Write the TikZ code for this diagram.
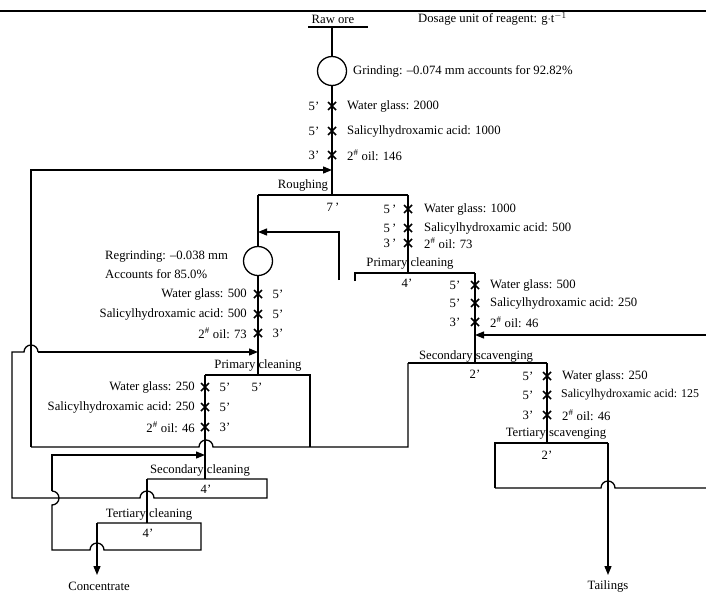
\documentclass[tikz,border=0pt]{standalone}
\usepackage{fontspec}
\setmainfont{Liberation Serif}
\usetikzlibrary{arrows.meta}
\begin{document}
\begin{tikzpicture}[x=1pt,y=-1pt,
  flow/.style={line width=1.3pt},
  arr/.style={flow,-{Triangle[length=9pt,width=7pt]}},
  txt/.style={inner sep=0pt,font=\fontsize{12.7}{14}\selectfont},
  mill/.style={draw,circle,line width=1.3pt,minimum size=29pt,inner sep=0pt},
  rule/.style={line width=2pt}]
\useasboundingbox (0,0) rectangle (706,592);
\newcommand{\xmark}[2]{\draw[line width=1.6pt] (#1-4,#2-4) -- (#1+4,#2+4) (#1-4,#2+4) -- (#1+4,#2-4);}
\newcommand{\oil}{2\textsuperscript{\#} oil}
% top rule
\coordinate (tl) at (0,11); \coordinate (tr) at (706,11);
\draw[rule] (tl) -- (tr);
% raw ore
\node[txt] (raw) at (333,19) {Raw ore};
\node[txt,anchor=west] (dose) at (418,19) {Dosage unit of reagent: g$\cdot$t$^{-1}$};
\coordinate (rawL) at (308,27); \coordinate (rawR) at (368,27); \coordinate (rawC) at (332,27);
\draw[flow] (rawL) -- (rawR);
\node[mill] (grind) at (332,71) {};
\node[txt,anchor=west] (grindt) at (353,71) {Grinding: --0.074 mm accounts for 92.82\%};
% roughing
\coordinate (rgh) at (332,195);
\coordinate (rghL) at (258,195); \coordinate (rghR) at (408,195);
\draw[flow] (rawC) -- (grind) -- (rgh);
\draw[flow] (rghL) -- (rghR);
\node[txt] (rought) at (303,185) {Roughing};
\node[txt] (r7) at (333,207) {7\,'};
\foreach \y/\a/\t in {106/5'/Water glass: 2000, 131/5'/Salicylhydroxamic acid: 1000, 155/3'/\oil: 146}{
  \xmark{332}{\y}
  \node[txt] at (314,\y) {\a};
  \node[txt,anchor=west] at (347,\y) {\t};
}
% feedback from secondary scavenging to roughing
\coordinate (fbA) at (31,447); \coordinate (fbB) at (31,170); \coordinate (fbC) at (332,170);
\coordinate (ss1) at (408,363); \coordinate (ss2) at (408,447);
\draw[flow] (ss1) -- (ss2) -- (213,447) arc[start angle=0,end angle=180,radius=7pt] -- (fbA);
\draw[arr] (fbA) -- (fbB) -- (fbC);
% regrinding branch
\node[mill] (regr) at (258,261) {};
\node[txt,anchor=west] (regt1) at (105,256) {Regrinding: --0.038 mm};
\node[txt,anchor=west] (regt2) at (105,274) {Accounts for 85.0\%};
\coordinate (pc2top) at (258,375);
\draw[flow] (rghL) -- (regr) -- (pc2top);
\foreach \y/\a/\t in {294/5'/Water glass: 500, 314/5'/Salicylhydroxamic acid: 500, 333/3'/\oil: 73}{
  \xmark{258}{\y}
  \node[txt] at (278,\y) {\a};
  \node[txt,anchor=east] at (247,\y) {\t};
}
% primary cleaning (right)
\coordinate (pc1top) at (408,273);
\coordinate (pc1L) at (355,273); \coordinate (pc1R) at (475,273); \coordinate (pc1Lb) at (355,281);
\draw[flow] (rghR) -- (pc1top);
\draw[flow] (pc1Lb) -- (pc1L) -- (pc1R);
\node[txt] (pc1t) at (410,263) {Primary cleaning};
\node[txt] (pc14) at (407,283) {4'};
\foreach \y/\a/\t in {209/5\,'/Water glass: 1000, 228/5\,'/Salicylhydroxamic acid: 500, 243/3\,'/\oil: 73}{
  \xmark{408}{\y}
  \node[txt] at (390,\y) {\a};
  \node[txt,anchor=west] at (424,\y) {\t};
}
% return to regrinding
\coordinate (rr1) at (339,280); \coordinate (rr2) at (339,232); \coordinate (rr3) at (258,232);
\draw[arr] (rr1) -- (rr2) -- (rr3);
% secondary scavenging
\coordinate (sstop) at (475,363);
\coordinate (ssR) at (547,363);
\draw[flow] (pc1R) -- (sstop);
\draw[flow] (ss1) -- (ssR);
\node[txt] (sst) at (476,356) {Secondary scavenging};
\node[txt] (ss2t) at (475,374) {2'};
\foreach \y/\a/\t in {285/5'/Water glass: 500, 303/5'/Salicylhydroxamic acid: 250, 322/3'/\oil: 46}{
  \xmark{475}{\y}
  \node[txt] at (455,\y) {\a};
  \node[txt,anchor=west] at (490,\y) {\t};
}
\coordinate (ret1) at (706,335); \coordinate (ret2) at (475,335);
\draw[arr] (ret1) -- (ret2);
% tertiary scavenging
\coordinate (tstop) at (547,443);
\coordinate (tsL) at (495,443); \coordinate (tsR) at (608,443);
\coordinate (tsLb) at (495,488); \coordinate (tsE) at (706,488);
\coordinate (tail) at (608,575);
\draw[flow] (ssR) -- (tstop);
\draw[flow] (tsLb) -- (tsL) -- (tsR);
\draw[arr] (tsR) -- (tail);
\draw[flow] (tsLb) -- (601,488) arc[start angle=180,end angle=0,radius=7pt] -- (tsE);
\node[txt] (tst) at (556,434) {Tertiary scavenging};
\node[txt] (ts2t) at (547,455) {2'};
\node[txt] (tailt) at (608,586) {Tailings};
\foreach \y/\a/\t in {376/5'/Water glass: 250, 415/3'/\oil: 46}{
  \xmark{547}{\y}
  \node[txt] at (528,\y) {\a};
  \node[txt,anchor=west] at (562,\y) {\t};
}
\xmark{547}{395}
\node[txt] (ts5b) at (528,395) {5'};
\node[txt,anchor=west,font=\fontsize{11.9}{14}\selectfont] (tssal) at (561,395) {Salicylhydroxamic acid: 125};
% primary cleaning (left)
\coordinate (pc2L) at (205,375); \coordinate (pc2R) at (310,375); \coordinate (pc2Rb) at (310,447);
\draw[flow] (pc2L) -- (pc2R) -- (pc2Rb);
\node[txt] (pc2t) at (258,365) {Primary cleaning};
\node[txt] (pc25) at (257,387) {5'};
\foreach \y/\a/\t in {387/5'/Water glass: 250, 407/5'/Salicylhydroxamic acid: 250, 427/3'/\oil: 46}{
  \xmark{205}{\y}
  \node[txt] at (225,\y) {\a};
  \node[txt,anchor=east] at (195,\y) {\t};
}
% secondary cleaning
\coordinate (sctop) at (205,479);
\coordinate (scL) at (147,479); \coordinate (scR) at (267,479); \coordinate (scRb) at (267,498);
\coordinate (scE) at (12,498); \coordinate (scU) at (12,352); \coordinate (scA) at (258,352);
\draw[flow] (pc2L) -- (sctop);
\draw[flow] (scL) -- (scR) -- (scRb) -- (154,498) arc[start angle=0,end angle=180,radius=7pt] -- (scE) -- (scU) -- (24,352) arc[start angle=180,end angle=0,radius=7pt];
\draw[arr] (38,352) -- (scA);
\node[txt] (sct) at (200,470) {Secondary cleaning};
\node[txt] (sc4) at (206,489) {4'};
% tertiary cleaning
\coordinate (tctop) at (147,523);
\coordinate (tcL) at (97,523); \coordinate (tcR) at (201,523); \coordinate (tcRb) at (201,550);
\coordinate (tcE) at (52,550); \coordinate (tcU) at (52,455); \coordinate (tcA) at (205,455);
\coordinate (conc) at (97,575);
\draw[flow] (scL) -- (tctop);
\draw[flow] (tcL) -- (tcR) -- (tcRb) -- (104,550) arc[start angle=0,end angle=180,radius=7pt] -- (tcE) -- (52,505) arc[start angle=-90,end angle=90,radius=7pt];
\draw[arr] (52,491) -- (tcU) -- (tcA);
\draw[arr] (tcL) -- (conc);
\node[txt] (tct) at (149,514) {Tertiary cleaning};
\node[txt] (tc4) at (148,533) {4'};
\node[txt] (conct) at (99,586) {Concentrate};
\end{tikzpicture}
\end{document}
